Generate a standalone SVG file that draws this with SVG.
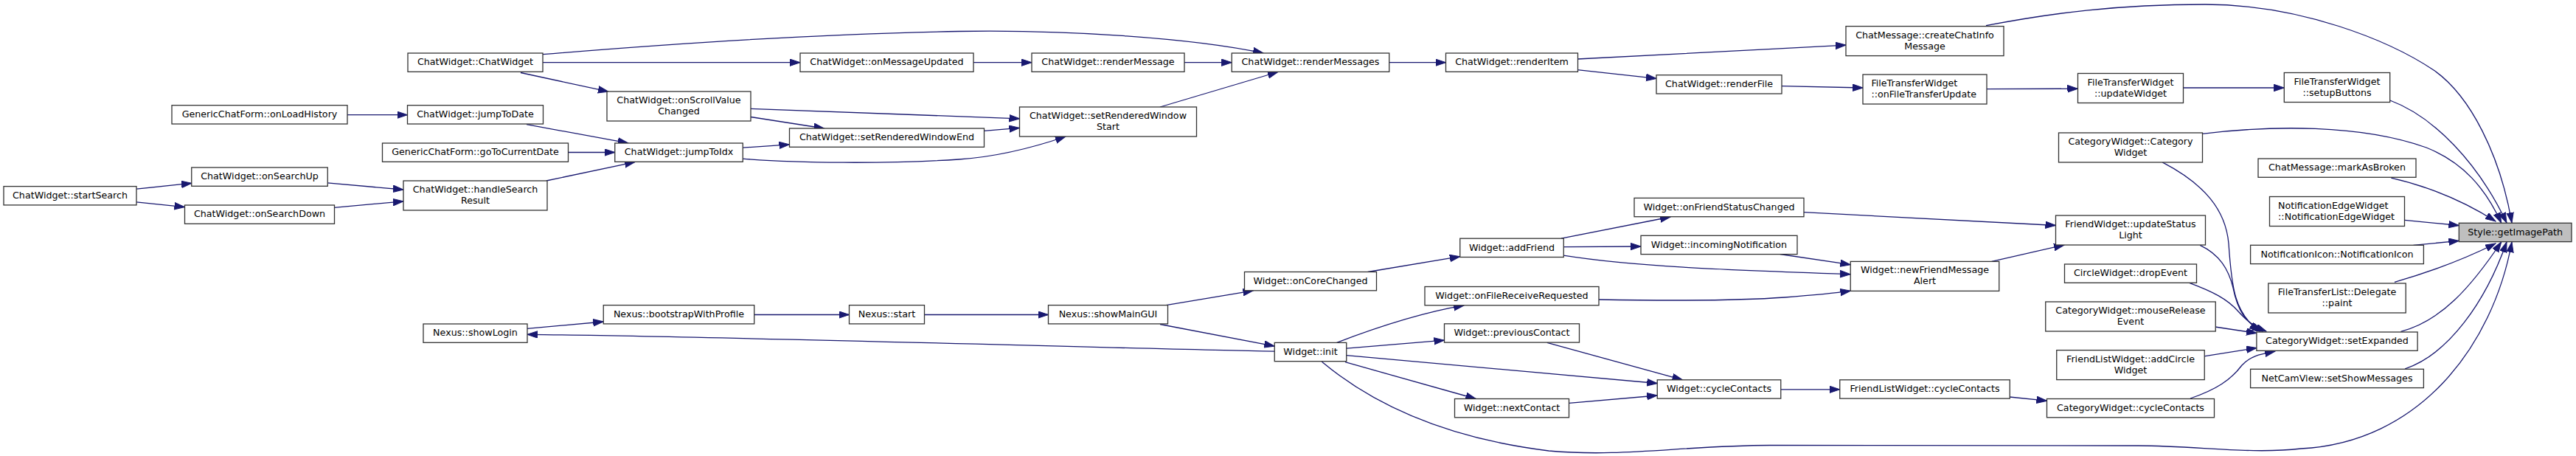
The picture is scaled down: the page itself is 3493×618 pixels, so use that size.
<svg xmlns="http://www.w3.org/2000/svg" width="3493" height="618" viewBox="0 0 3493 618">
<style>
.node rect{fill:#fff;stroke:#333;stroke-width:1.3}
.node.focus rect{fill:#bfbfbf}
.node text{font-family:"DejaVu Sans",sans-serif;font-size:12.7px;fill:#000;text-anchor:middle}
.node text.l{text-anchor:start}
#edges path{fill:none;stroke:#191970;stroke-width:1.3;marker-end:url(#arr)}
</style>
<defs>
<marker id="arr" markerUnits="userSpaceOnUse" markerWidth="15" markerHeight="11" refX="14" refY="5" orient="auto">
<path d="M0,0.3 L14,5 L0,9.7 z" fill="#191970" stroke="#191970" stroke-width="1"/>
</marker>
</defs>
<rect width="3493" height="618" fill="#fff"/>
<g id="edges">
<path d="M185,256.2 L260,248.3"/>
<path d="M185,273.9 L250.5,280.6"/>
<path d="M444,247.9 L547,257"/>
<path d="M453,281.4 L547,272.8"/>
<path d="M471,155.7 L552.5,155.7"/>
<path d="M714,168.7 L851.7,193.8"/>
<path d="M770.6,206.5 L833.75,206.5"/>
<path d="M740.7,245 L861,219.6"/>
<path d="M736,84.7 L1085,84.7"/>
<path d="M706,98.5 L825,124.2"/>
<path d="M736,73.7 C900,60 1100,46 1300,42.5 C1450,40 1620,52 1713,72"/>
<path d="M1018,158.5 L1117.6,174"/>
<path d="M1018,147.4 L1382.5,160.8"/>
<path d="M1007,200.2 L1070.5,195.9"/>
<path d="M1007,215.2 C1080,221 1200,222.5 1300,216 C1360,212 1410,197 1445,185"/>
<path d="M1334.5,177.4 L1382.5,173.4"/>
<path d="M1320,84.7 L1399,84.7"/>
<path d="M1606,84.7 L1670.25,84.7"/>
<path d="M1573,145 L1733,97.5"/>
<path d="M1884,84.7 L1960.5,84.7"/>
<path d="M2139,94.6 L2246,106.4"/>
<path d="M2139,80 C2250,74 2380,68 2503,61.1"/>
<path d="M2416,116.7 L2526,119"/>
<path d="M2694,120.6 L2817.5,120.2"/>
<path d="M2960.5,119 L3097.3,119"/>
<path d="M3240.8,136 C3300,158 3360,220 3399,302"/>
<path d="M2693,34.7 C2780,18 2870,6 2990,6 C3120,6 3240,55 3300,95 C3350,130 3390,210 3406,302"/>
<path d="M2986.2,181.3 C3080,170 3200,168 3290,200 C3340,220 3370,255 3391.7,302"/>
<path d="M3242.3,241.2 C3290,252 3340,272 3384,300"/>
<path d="M3260.8,298.4 L3334.3,305.5"/>
<path d="M3272.5,332.3 L3334.3,326.4"/>
<path d="M3247,382.3 C3290,370 3340,352 3384,330"/>
<path d="M3255.5,449.3 C3310,435 3350,390 3391.7,328"/>
<path d="M3261.2,499.8 C3320,480 3370,410 3399,328"/>
<path d="M1792.4,490.3 C1840,530 1930,590 2100,611 C2200,620 2280,604 2400,603.5 L2900,604 C2980,604 3050,616 3120,608 C3280,600 3380,470 3406,328"/>
<path d="M2932.1,219.9 C2990,250 3018,285 3022,330 C3026,390 3030,425 3064,449"/>
<path d="M2983.2,332.3 C3010,345 3022,365 3028,390 C3034,420 3045,438 3068,449"/>
<path d="M2968,383.1 C3000,395 3020,405 3035,422 C3045,433 3055,442 3073,449"/>
<path d="M3003.6,443 L3060,451.5"/>
<path d="M2988.5,482.8 L3060,471.5"/>
<path d="M2970,540 C3005,528 3025,515 3040,495 C3052,482 3065,480 3085,476"/>
<path d="M2725,538 L2775.5,543.2"/>
<path d="M2414.5,527.8 L2494.75,527.8"/>
<path d="M2097.8,464.3 L2281.5,514.8"/>
<path d="M2127.5,546.3 L2247.25,536"/>
<path d="M1826,472.2 L1958.5,461.2"/>
<path d="M1824,490.7 L2001.4,540.5"/>
<path d="M1826,481.7 L2247.25,519.5"/>
<path d="M1812.7,464.3 C1850,450 1920,425 1985,413.9"/>
<path d="M2167.8,406 C2250,407.5 2350,408 2420,403 C2460,400 2490,397 2509.4,394.2"/>
<path d="M2117,323.2 L2265,294"/>
<path d="M2120,334.6 L2225,334"/>
<path d="M2120,346.1 C2220,362 2350,366 2509.25,371.7"/>
<path d="M2413.8,344.5 L2509.25,358.7"/>
<path d="M2446,287.7 L2787.5,305.5"/>
<path d="M2700.7,354.4 L2799,332"/>
<path d="M1854.8,368.5 L1979.75,347.7"/>
<path d="M1581,413.6 L1699.5,393.8"/>
<path d="M1573,439.5 L1728.25,469.1"/>
<path d="M1253.5,426.5 L1421.5,426.5"/>
<path d="M1022.75,426.5 L1151.5,426.5"/>
<path d="M714.7,445.4 L818.25,436"/>
<path d="M1728.25,476.2 C1500,472 1000,456 715,453.3"/>
</g>
<g id="n_startSearch" class="node"><rect x="5" y="252.6" width="180" height="25.3"/><text x="95" y="268.9">ChatWidget::startSearch</text></g>
<g id="n_onLoadHistory" class="node"><rect x="233" y="142.7" width="238" height="25.3"/><text x="352" y="159">GenericChatForm::onLoadHistory</text></g>
<g id="n_onSearchUp" class="node"><rect x="259.75" y="227" width="184.5" height="25.3"/><text x="352" y="243.3">ChatWidget::onSearchUp</text></g>
<g id="n_onSearchDown" class="node"><rect x="250.5" y="278" width="203" height="25.3"/><text x="352" y="294.3">ChatWidget::onSearchDown</text></g>
<g id="n_ChatWidget" class="node"><rect x="553" y="72" width="183" height="25.3"/><text x="644.5" y="88.3">ChatWidget::ChatWidget</text></g>
<g id="n_jumpToDate" class="node"><rect x="552.5" y="142.7" width="184" height="25.3"/><text x="644.5" y="159">ChatWidget::jumpToDate</text></g>
<g id="n_goToCurrentDate" class="node"><rect x="518.5" y="194" width="252" height="25.3"/><text x="644.5" y="210.3">GenericChatForm::goToCurrentDate</text></g>
<g id="n_handleSearchResult" class="node"><rect x="547" y="245" width="195" height="40"/><text x="644.5" y="261">ChatWidget::handleSearch</text><text x="644.5" y="276">Result</text></g>
<g id="n_showLogin" class="node"><rect x="574" y="439" width="141" height="25.3"/><text x="644.5" y="455.3">Nexus::showLogin</text></g>
<g id="n_onScrollValueChanged" class="node"><rect x="823" y="124" width="195" height="40"/><text x="920.5" y="140">ChatWidget::onScrollValue</text><text x="920.5" y="155">Changed</text></g>
<g id="n_jumpToIdx" class="node"><rect x="833.75" y="194" width="173.5" height="25.3"/><text x="920.5" y="210.3">ChatWidget::jumpToIdx</text></g>
<g id="n_bootstrapWithProfile" class="node"><rect x="818.25" y="413.6" width="204.5" height="25.3"/><text x="920.5" y="429.9">Nexus::bootstrapWithProfile</text></g>
<g id="n_onMessageUpdated" class="node"><rect x="1085" y="72" width="235" height="25.3"/><text x="1202.5" y="88.3">ChatWidget::onMessageUpdated</text></g>
<g id="n_setRenderedWindowEnd" class="node"><rect x="1070.5" y="174" width="264" height="25.3"/><text x="1202.5" y="190.3">ChatWidget::setRenderedWindowEnd</text></g>
<g id="n_start" class="node"><rect x="1151.5" y="413.6" width="102" height="25.3"/><text x="1202.5" y="429.9">Nexus::start</text></g>
<g id="n_renderMessage" class="node"><rect x="1399" y="72" width="207" height="25.3"/><text x="1502.5" y="88.3">ChatWidget::renderMessage</text></g>
<g id="n_setRenderedWindowStart" class="node"><rect x="1382.5" y="145" width="240" height="40"/><text x="1502.5" y="161">ChatWidget::setRenderedWindow</text><text x="1502.5" y="176">Start</text></g>
<g id="n_showMainGUI" class="node"><rect x="1421.5" y="413.6" width="162" height="25.3"/><text x="1502.5" y="429.9">Nexus::showMainGUI</text></g>
<g id="n_renderMessages" class="node"><rect x="1670.25" y="72" width="213.5" height="25.3"/><text x="1777" y="88.3">ChatWidget::renderMessages</text></g>
<g id="n_onCoreChanged" class="node"><rect x="1687.5" y="368.5" width="179" height="25.3"/><text x="1777" y="384.8">Widget::onCoreChanged</text></g>
<g id="n_init" class="node"><rect x="1728.25" y="464.4" width="97.5" height="25.3"/><text x="1777" y="480.7">Widget::init</text></g>
<g id="n_renderItem" class="node"><rect x="1960.5" y="72" width="179" height="25.3"/><text x="2050" y="88.3">ChatWidget::renderItem</text></g>
<g id="n_addFriend" class="node"><rect x="1979.75" y="323.2" width="140.5" height="25.3"/><text x="2050" y="339.5">Widget::addFriend</text></g>
<g id="n_onFileReceiveRequested" class="node"><rect x="1932" y="388.5" width="236" height="25.3"/><text x="2050" y="404.8">Widget::onFileReceiveRequested</text></g>
<g id="n_previousContact" class="node"><rect x="1958.5" y="438.8" width="183" height="25.3"/><text x="2050" y="455.1">Widget::previousContact</text></g>
<g id="n_nextContact" class="node"><rect x="1972.5" y="540.5" width="155" height="25.3"/><text x="2050" y="556.8">Widget::nextContact</text></g>
<g id="n_renderFile" class="node"><rect x="2246" y="101.7" width="170" height="25.3"/><text x="2331" y="118">ChatWidget::renderFile</text></g>
<g id="n_onFriendStatusChanged" class="node"><rect x="2216" y="268.4" width="230" height="25.3"/><text x="2331" y="284.7">Widget::onFriendStatusChanged</text></g>
<g id="n_incomingNotification" class="node"><rect x="2225" y="319.3" width="212" height="25.3"/><text x="2331" y="335.6">Widget::incomingNotification</text></g>
<g id="n_WidgetCycleContacts" class="node"><rect x="2247.25" y="514.8" width="167.5" height="25.3"/><text x="2331" y="531.1">Widget::cycleContacts</text></g>
<g id="n_createChatInfoMessage" class="node"><rect x="2503" y="35.6" width="214" height="40"/><text x="2610" y="51.6">ChatMessage::createChatInfo</text><text x="2610" y="66.6">Message</text></g>
<g id="n_onFileTransferUpdate" class="node"><rect x="2526" y="101" width="168" height="40"/><text class="l" x="2537.4" y="117">FileTransferWidget</text><text class="l" x="2537.4" y="132">::onFileTransferUpdate</text></g>
<g id="n_newFriendMessageAlert" class="node"><rect x="2509.25" y="354.4" width="201.5" height="40"/><text x="2610" y="370.4">Widget::newFriendMessage</text><text x="2610" y="385.4">Alert</text></g>
<g id="n_FriendListCycleContacts" class="node"><rect x="2494.75" y="514.8" width="230.5" height="25.3"/><text x="2610" y="531.1">FriendListWidget::cycleContacts</text></g>
<g id="n_updateWidget" class="node"><rect x="2817.5" y="99.5" width="143" height="40"/><text x="2889" y="115.5">FileTransferWidget</text><text x="2889" y="130.5">::updateWidget</text></g>
<g id="n_CategoryWidget" class="node"><rect x="2791.5" y="180" width="195" height="40"/><text x="2889" y="196">CategoryWidget::Category</text><text x="2889" y="211">Widget</text></g>
<g id="n_updateStatusLight" class="node"><rect x="2787.5" y="292" width="203" height="40"/><text x="2889" y="308">FriendWidget::updateStatus</text><text x="2889" y="323">Light</text></g>
<g id="n_dropEvent" class="node"><rect x="2799.5" y="358" width="179" height="25.3"/><text x="2889" y="374.3">CircleWidget::dropEvent</text></g>
<g id="n_mouseReleaseEvent" class="node"><rect x="2773.75" y="409" width="230.5" height="40"/><text x="2889" y="425">CategoryWidget::mouseRelease</text><text x="2889" y="440">Event</text></g>
<g id="n_addCircleWidget" class="node"><rect x="2788.75" y="474.6" width="200.5" height="40"/><text x="2889" y="490.6">FriendListWidget::addCircle</text><text x="2889" y="505.6">Widget</text></g>
<g id="n_CategoryCycleContacts" class="node"><rect x="2775.5" y="540.5" width="227" height="25.3"/><text x="2889" y="556.8">CategoryWidget::cycleContacts</text></g>
<g id="n_setupButtons" class="node"><rect x="3097.3" y="98.5" width="143.4" height="40"/><text x="3169" y="114.5">FileTransferWidget</text><text x="3169" y="129.5">::setupButtons</text></g>
<g id="n_markAsBroken" class="node"><rect x="3062" y="215" width="214" height="25.3"/><text x="3169" y="231.3">ChatMessage::markAsBroken</text></g>
<g id="n_NotificationEdgeWidget" class="node"><rect x="3077.5" y="266.5" width="183" height="40"/><text class="l" x="3089.1" y="282.5">NotificationEdgeWidget</text><text class="l" x="3089.1" y="297.5">::NotificationEdgeWidget</text></g>
<g id="n_NotificationIcon" class="node"><rect x="3051.6" y="332.3" width="234.8" height="25.3"/><text x="3169" y="348.6">NotificationIcon::NotificationIcon</text></g>
<g id="n_DelegatePaint" class="node"><rect x="3075.8" y="384" width="186.4" height="40"/><text x="3169" y="400">FileTransferList::Delegate</text><text x="3169" y="415">::paint</text></g>
<g id="n_setExpanded" class="node"><rect x="3059.9" y="450" width="218.2" height="25.3"/><text x="3169" y="466.3">CategoryWidget::setExpanded</text></g>
<g id="n_setShowMessages" class="node"><rect x="3051.6" y="500.3" width="234.8" height="25.3"/><text x="3169" y="516.6">NetCamView::setShowMessages</text></g>
<g id="n_getImagePath" class="node focus"><rect x="3334.3" y="302.3" width="152.7" height="25.3"/><text x="3410.6" y="318.6">Style::getImagePath</text></g>
</svg>
